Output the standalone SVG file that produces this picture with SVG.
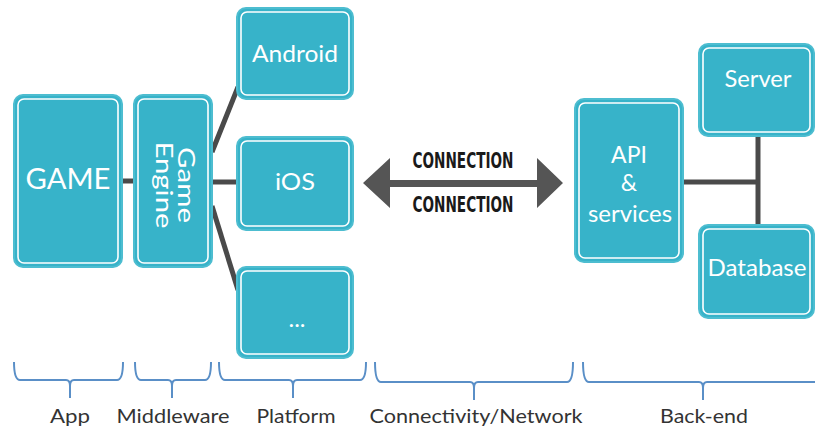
<svg xmlns="http://www.w3.org/2000/svg" width="815" height="435" viewBox="0 0 815 435">
<style>
.box{fill:#37b3c9;stroke:#4dbdd0;stroke-width:2}
.inner{fill:none;stroke:#ffffff;stroke-width:1.6}
.bt{fill:#ffffff;font-family:Lato,"Open Sans",sans-serif;text-anchor:middle}
.conn{stroke:#4a4a4a;stroke-width:5;fill:none}
.brace{stroke:#5a8fc7;stroke-width:2;fill:none}
.lbl{fill:#333333;font-family:Lato,"Open Sans",sans-serif;font-size:19px;text-anchor:middle}
.ct{fill:#1a1a1a;font-family:"Liberation Sans Narrow","DejaVu Sans Condensed",sans-serif;font-weight:bold;font-size:21px;text-anchor:middle}
</style>
<rect width="815" height="435" fill="#ffffff"/>
<g id="connectors">
<line class="conn" x1="123" y1="181" x2="135" y2="181"/>
<line class="conn" x1="213" y1="182" x2="237" y2="182"/>
<line class="conn" x1="212" y1="152" x2="238" y2="87"/>
<line class="conn" x1="212" y1="206" x2="238" y2="290"/>
<line class="conn" x1="683" y1="182" x2="758" y2="182"/>
<line class="conn" x1="758" y1="136" x2="758" y2="225"/>
<polygon fill="#555555" points="363,183 390,158 390,180 537,180 537,158 563,183 537,208 537,187 390,187 390,208"/>
</g>
<g id="connection-labels">
<text class="ct" x="463" y="168" textLength="101" lengthAdjust="spacingAndGlyphs">CONNECTION</text>
<text class="ct" x="463" y="212" textLength="101" lengthAdjust="spacingAndGlyphs">CONNECTION</text>
</g>
<g id="game">
<rect class="box" x="14" y="95" width="108" height="172" rx="9"/>
<rect class="inner" x="18" y="99" width="100" height="164" rx="6"/>
<text class="bt" x="68" y="189" font-size="29" textLength="85" lengthAdjust="spacingAndGlyphs">GAME</text>
</g>
<g id="game-engine">
<rect class="box" x="134" y="95" width="78" height="172" rx="9"/>
<rect class="inner" x="138" y="99" width="70" height="164" rx="6"/>
<g transform="translate(174,185) rotate(90)">
<text class="bt" x="0" y="-4" font-size="23" textLength="76" lengthAdjust="spacingAndGlyphs">Game</text>
<text class="bt" x="0" y="18" font-size="23" textLength="87" lengthAdjust="spacingAndGlyphs">Engine</text>
</g>
</g>
<g id="android">
<rect class="box" x="237" y="8" width="116" height="91" rx="9"/>
<rect class="inner" x="241" y="12" width="108" height="83" rx="6"/>
<text class="bt" x="295" y="62" font-size="23" textLength="86" lengthAdjust="spacingAndGlyphs">Android</text>
</g>
<g id="ios">
<rect class="box" x="237" y="137" width="116" height="93" rx="9"/>
<rect class="inner" x="241" y="141" width="108" height="85" rx="6"/>
<text class="bt" x="295" y="190" font-size="24" textLength="40" lengthAdjust="spacingAndGlyphs">iOS</text>
</g>
<g id="more">
<rect class="box" x="237" y="267" width="116" height="91" rx="9"/>
<rect class="inner" x="241" y="271" width="108" height="83" rx="6"/>
<text class="bt" x="297" y="327" font-size="24">...</text>
</g>
<g id="api">
<rect class="box" x="575" y="99" width="108" height="163" rx="9"/>
<rect class="inner" x="579" y="103" width="100" height="155" rx="6"/>
<text class="bt" x="629" y="163" font-size="23">API</text>
<text class="bt" x="629" y="191" font-size="23">&amp;</text>
<text class="bt" x="630" y="222" font-size="23" textLength="84" lengthAdjust="spacingAndGlyphs">services</text>
</g>
<g id="server">
<rect class="box" x="699" y="44" width="115" height="92" rx="9"/>
<rect class="inner" x="703" y="48" width="107" height="84" rx="6"/>
<text class="bt" x="758" y="87" font-size="23" textLength="67" lengthAdjust="spacingAndGlyphs">Server</text>
</g>
<g id="database">
<rect class="box" x="699" y="225" width="115" height="93" rx="9"/>
<rect class="inner" x="703" y="229" width="107" height="85" rx="6"/>
<text class="bt" x="757" y="276" font-size="24" textLength="99" lengthAdjust="spacingAndGlyphs">Database</text>
</g>
<g id="braces">
<path class="brace" d="M14,362 Q14,380 20,380 L66,380 Q70,380 70,386 L70,398 M70,386 Q70,380 74,380 L117,380 Q123,380 123,362"/>
<path class="brace" d="M135,362 Q135,380 141,380 L168,380 Q172,380 172,386 L172,398 M172,386 Q172,380 176,380 L205,380 Q211,380 211,362"/>
<path class="brace" d="M219,362 Q219,380 225,380 L289,380 Q293,380 293,386 L293,398 M293,386 Q293,380 297,380 L360,380 Q366,380 366,362"/>
<path class="brace" d="M375,362 Q375,382 381,382 L470,382 Q474,382 474,388 L474,400 M474,388 Q474,382 478,382 L567,382 Q573,382 573,362"/>
<path class="brace" d="M583,362 Q583,382 589,382 L699,382 Q703,382 703,388 L703,400 M703,388 Q703,382 707,382 L820,382"/>
</g>
<g id="labels">
<text class="lbl" x="70" y="423" textLength="40" lengthAdjust="spacingAndGlyphs">App</text>
<text class="lbl" x="173" y="423" textLength="113" lengthAdjust="spacingAndGlyphs">Middleware</text>
<text class="lbl" x="296" y="423" textLength="79" lengthAdjust="spacingAndGlyphs">Platform</text>
<text class="lbl" x="476" y="423" textLength="213" lengthAdjust="spacingAndGlyphs">Connectivity/Network</text>
<text class="lbl" x="704" y="423" textLength="88" lengthAdjust="spacingAndGlyphs">Back-end</text>
</g>
</svg>
